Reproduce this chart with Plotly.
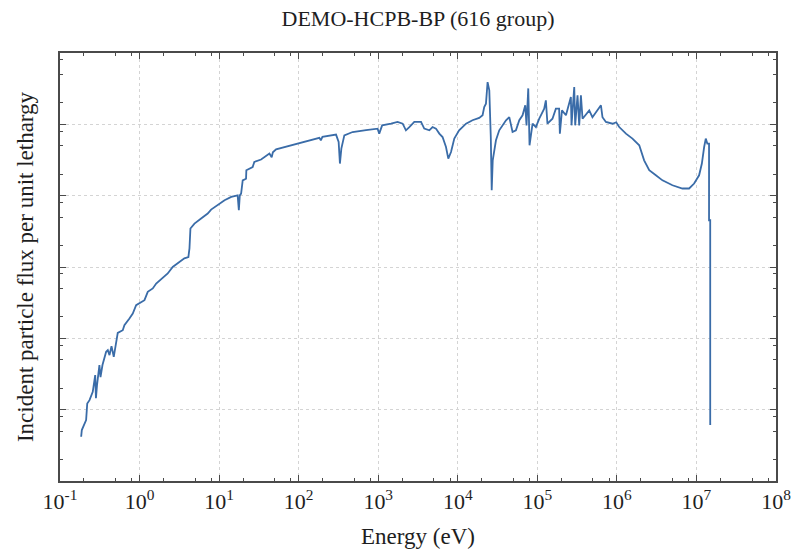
import plotly.graph_objects as go

energy_eV = [
    0.1845, 0.188, 0.213, 0.220, 0.235, 0.258, 0.277, 0.283, 0.292, 0.313,
    0.323, 0.342, 0.380, 0.399, 0.419, 0.444, 0.474, 0.508, 0.532, 0.615,
    0.645, 0.746, 0.822, 0.906, 1.047, 1.153, 1.268, 1.466, 1.618, 1.866,
    2.26, 2.61, 3.02, 3.66, 4.11, 4.24, 4.36, 4.90, 5.94, 7.19,
    7.93, 9.60, 11.7, 14.2, 17.1, 17.7, 18.2, 18.9, 19.8, 21.8,
    22.0, 26.4, 27.7, 33.7, 42.9, 45.8, 47.4, 52.0, 66.1, 97.1,
    136, 182, 190, 199, 295, 318, 330, 344, 375, 476,
    703, 982, 1030, 1120, 1450, 1750, 2030, 2230, 2460, 2840,
    3450, 3790, 4390, 4820, 5320, 5860, 6440, 7110, 7600, 8220,
    9040, 10400, 12700, 15300, 18600, 20500, 21500, 22600, 23700, 24900,
    26000, 26700, 27500, 30200, 33200, 40400, 44400, 48800, 53800, 59300,
    65200, 70500, 73100, 76900, 79800, 87100, 95900, 105700, 122000, 128000,
    134000, 155000, 171000, 188000, 192000, 204000, 229000, 264000, 269000, 291000,
    299000, 320000, 336000, 353000, 370000, 449000, 493000, 570000, 630000, 659000,
    728000, 881000, 980000, 1.07e6, 1.30e6, 1.57e6, 1.91e6, 2.20e6, 2.55e6, 3.09e6,
    3.74e6, 4.99e6, 6.67e6, 8.09e6, 9.35e6, 1.08e7, 1.17e7, 1.25e7, 1.31e7, 1.37e7,
    1.44e7, 1.44e7, 1.49e7, 1.49e7, 1.53e7,
]

flux_per_lethargy = [
    4.17e8, 5.18e8, 7.14e8, 1.22e9, 1.36e9, 1.78e9, 3.05e9, 1.45e9, 2.21e9, 4.22e9,
    2.86e9, 4.22e9, 6.47e9, 6.84e9, 5.82e9, 7.78e9, 5.51e9, 9.44e9, 1.19e10, 1.30e10,
    1.53e10, 1.90e10, 2.23e10, 2.92e10, 3.24e10, 3.43e10, 4.48e10, 5.00e10, 5.87e10, 6.68e10,
    8.11e10, 1.00e11, 1.12e11, 1.32e11, 1.38e11, 1.82e11, 3.46e11, 4.06e11, 4.78e11, 5.61e11,
    6.38e11, 7.34e11, 8.63e11, 9.60e11, 1.01e12, 6.25e11, 1.01e12, 1.07e12, 1.64e12, 1.73e12,
    2.27e12, 2.52e12, 2.97e12, 3.21e12, 3.89e12, 3.45e12, 4.05e12, 4.47e12, 4.81e12, 5.37e12,
    5.97e12, 6.47e12, 5.97e12, 6.68e12, 7.18e12, 5.65e12, 2.82e12, 4.57e12, 7.02e12, 7.80e12,
    8.32e12, 8.71e12, 7.41e12, 9.68e12, 1.02e13, 1.08e13, 1.02e13, 8.24e12, 9.16e12, 1.08e13,
    1.08e13, 8.71e12, 8.24e12, 9.16e12, 8.71e12, 7.41e12, 6.64e12, 4.81e12, 3.31e12, 4.09e12,
    6.31e12, 8.24e12, 1.02e13, 1.14e13, 1.23e13, 1.34e13, 1.75e13, 1.95e13, 3.91e13, 2.99e13,
    6.64e12, 1.19e12, 3.13e12, 5.97e12, 8.24e12, 1.14e13, 1.26e13, 7.80e12, 8.24e12, 1.14e13,
    1.34e13, 1.85e13, 9.68e12, 3.19e13, 5.08e12, 1.02e13, 9.16e12, 1.20e13, 1.66e13, 2.17e13,
    1.02e13, 1.20e13, 1.66e13, 1.66e13, 7.41e12, 1.57e13, 1.34e13, 2.41e13, 9.68e12, 3.33e13,
    9.68e12, 2.55e13, 9.68e12, 2.55e13, 1.20e13, 1.57e13, 1.26e13, 1.57e13, 1.85e13, 1.26e13,
    1.08e13, 1.02e13, 1.07e13, 9.16e12, 7.41e12, 6.31e12, 5.08e12, 3.13e12, 2.27e12, 1.93e12,
    1.64e12, 1.40e12, 1.26e12, 1.26e12, 1.48e12, 1.93e12, 2.82e12, 4.81e12, 6.31e12, 5.37e12,
    5.37e12, 4.52e11, 4.52e11, 6.28e8, 6.28e8,
]

x_tick_vals = [1e-1, 1e0, 1e1, 1e2, 1e3, 1e4, 1e5, 1e6, 1e7, 1e8]
x_tick_text = ["10<sup>-1</sup>", "10<sup>0</sup>", "10<sup>1</sup>", "10<sup>2</sup>",
               "10<sup>3</sup>", "10<sup>4</sup>", "10<sup>5</sup>", "10<sup>6</sup>",
               "10<sup>7</sup>", "10<sup>8</sup>"]
y_tick_vals = [1e8, 1e9, 1e10, 1e11, 1e12, 1e13, 1e14]
minor_mults = [2, 5, 8]

x_minor = [m * d for d in x_tick_vals[:-1] for m in minor_mults]
y_minor = [m * d for d in y_tick_vals[:-1] for m in minor_mults]

title_text = "DEMO-HCPB-BP (616 group)"
x_title = "Energy (eV)"
y_title = "Incident particle flux per unit lethargy"

serif = "Liberation Serif, Times New Roman, serif"
txt = "#1e1e1e"
frame = "#4a4a4a"
grid = "#d4d4d4"

fig = go.Figure()
fig.add_trace(go.Scatter(
    x=energy_eV, y=flux_per_lethargy, mode="lines",
    line=dict(color="#3a6ca8", width=1.8),
    showlegend=False, hoverinfo="skip",
))

fig.update_layout(
    width=792, height=551,
    margin=dict(l=60, r=16, t=53, b=70, autoexpand=False),
    paper_bgcolor="white", plot_bgcolor="white",
    font=dict(family=serif, color=txt, size=20),
    title=dict(text=title_text, xref="paper", x=0.5, xanchor="center",
               y=0.967, yanchor="middle",
               font=dict(family=serif, size=22, color=txt)),
)

fig.update_xaxes(
    type="log", range=[-1, 8], automargin=False,
    tickvals=x_tick_vals, ticktext=x_tick_text,
    tickfont=dict(family=serif, size=22, color=txt),
    showline=True, linecolor=frame, linewidth=1.5, mirror="ticks",
    ticks="inside", ticklen=6, tickcolor=frame, tickwidth=1,
    showgrid=True, gridcolor=grid, griddash="dot", gridwidth=1,
    minor=dict(tickvals=x_minor, ticks="inside", ticklen=3, tickcolor=frame, showgrid=False),
    title=dict(text=x_title, font=dict(family=serif, size=23, color=txt), standoff=15),
    zeroline=False,
)
fig.update_yaxes(
    type="log", range=[8, 14], automargin=False,
    tickvals=y_tick_vals, showticklabels=False,
    showline=True, linecolor=frame, linewidth=1.5, mirror="ticks",
    ticks="inside", ticklen=6, tickcolor=frame, tickwidth=1,
    showgrid=True, gridcolor=grid, griddash="dot", gridwidth=1,
    minor=dict(tickvals=y_minor, ticks="inside", ticklen=3, tickcolor=frame, showgrid=False),
    title=dict(text=y_title, font=dict(family=serif, size=23, color=txt), standoff=18),
    zeroline=False,
)

fig.write_html("out.html", config={"displayModeBar": False},
               post_script="document.body.style.margin='0';")
